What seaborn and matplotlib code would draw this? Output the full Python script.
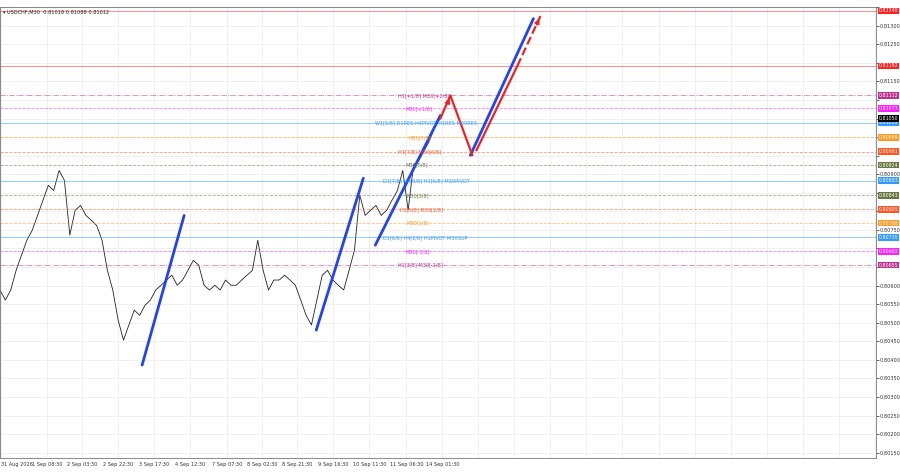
import matplotlib
matplotlib.use("Agg")
import matplotlib.pyplot as plt
import seaborn as sns
import numpy as np
import pandas as pd

sns.set_theme(style="white")
plt.rcParams['font.family'] = ['DejaVu Sans']

close = [0.80588,0.80561,0.80588,0.80641,0.80682,0.80722,0.80749,0.80789,0.80830,0.80870,
         0.80856,0.80910,0.80883,0.80736,0.80803,0.80816,0.80789,0.80776,0.80762,0.80722,
         0.80641,0.80588,0.80507,0.80453,0.80494,0.80534,0.80520,0.80547,0.80561,0.80588,
         0.80601,0.80615,0.80628,0.80601,0.80615,0.80641,0.80668,0.80655,0.80601,0.80588,
         0.80601,0.80588,0.80615,0.80601,0.80601,0.80615,0.80628,0.80641,0.80722,0.80641,
         0.80588,0.80615,0.80615,0.80628,0.80615,0.80601,0.80561,0.80520,0.80494,0.80561,
         0.80628,0.80641,0.80615,0.80601,0.80588,0.80641,0.80695,0.80843,0.80789,0.80803,
         0.80816,0.80789,0.80803,0.80830,0.80856,0.80910,0.80803,0.80924,0.80937,0.80964,
         0.80991,0.81031,0.81050]
bar = list(np.linspace(0, 88, len(close)))

time_pos = [0.2,9.4,16.4,23.6,30.8,38,45.4,52.4,59.4,66.6,73.8,81.2,88.4]
time_lbl = ["31 Aug 2026","1 Sep 08:30","2 Sep 03:30","2 Sep 22:30","3 Sep 17:30","4 Sep 12:30",
            "7 Sep 07:30","8 Sep 02:30","8 Sep 21:30","9 Sep 16:30","10 Sep 11:30","11 Sep 06:30","14 Sep 01:30"]

lvl_price = [0.81340,0.81192,0.81112,0.81077,0.81039,0.80999,0.80961,0.80924,0.80883,0.80843,
             0.80805,0.80768,0.80730,0.80692,0.80655]
lvl_color = ["#ff2020","#ff2020","#c03090","#ff20ff","#3399ff","#ff9922","#ff5522","#667744",
             "#3399ff","#667744","#ff5522","#ff9922","#3399ff","#ff20ff","#c03090"]
lvl_style = ["-","-","-.","--","-","--","--","--","-","--","--","--","-","--","-."]
lvl_text = ["","","H1[+1/8] M30[+2/8]","M30[+1/8]","W1[5/8] D1RES H4PIVOT H1RES M30RES","M30[7/8]",
            "H1[7/8] M30[6/8]","M30[5/8]","D1[7/8] H4[6/8] H1[6/8] M30PIVOT","M30[3/8]",
            "H1[5/8] M30[2/8]","M30[1/8]","D1[6/8] H4[2/8] H1PIVOT M30SUP","M30[-1/8]","H1[3/8] M30[-2/8]"]
lvl_tx = [0,0,79.6,81,75,81.6,79.6,81,76.6,81.2,80,81.2,76.6,81,79.6]
current = 0.81050

blue_x = [(28.4,36.8),(63.2,72.6),(75,88),(94,106.6)]
blue_y = [(0.80386,0.80789),(0.80480,0.80889),(0.80709,0.81058),(0.80951,0.81319)]
red_x = [88,90,94.4]
red_y = [0.81050,0.81112,0.80951]
red2_x = [95.2,103.4]
red2_y = [0.80964,0.81192]
red3_x = [103.4,108]
red3_y = [0.81192,0.81326]

fig = plt.figure(figsize=(9,4.74), dpi=100)
ax = fig.add_axes([0.0, 0.034, 0.973, 0.951])
ax.set_xlim(0,175)
ax.set_ylim(0.80136,0.81348)

yt = np.arange(0.8015,0.81351,0.0005)
ax.set_yticks(yt)
ax.yaxis.tick_right()
marks = lvl_price + [current]
ax.set_yticklabels([f"{v:.5f}" if min(abs(v-m) for m in marks) > 0.00013 else "" for v in yt],
                   fontsize=3.6, color="#333")
grid_x = time_pos + list(np.arange(95.6,175,7.2))
for gx in grid_x:
    ax.axvline(gx, color="#eeeeee", lw=0.6, zorder=0)
for v in yt:
    ax.axhline(v, color="#eeeeee", lw=0.6, zorder=0)
ax.set_xticks(time_pos)
ax.set_xticklabels(time_lbl, fontsize=3.6, color="#333")
ax.get_xticklabels()[0].set_horizontalalignment("left")
ax.tick_params(length=2, width=0.5, pad=1)
for s in ax.spines.values():
    s.set_linewidth(0.6); s.set_color("#777")

df = pd.DataFrame({"bar":bar,"close":close})
sns.lineplot(data=df, x="bar", y="close", ax=ax, color="#222", lw=0.6)
ax.set_xlabel(""); ax.set_ylabel("")

for p,c,ls,t,tx in zip(lvl_price,lvl_color,lvl_style,lvl_text,lvl_tx):
    ax.axhline(p, color=c, ls=ls, lw=0.6, alpha=0.6)
    if t:
        ax.text(tx, p, t, fontsize=3.6, color=c, va="center")
    ax.text(1.003, p, f"{p:.5f}", transform=ax.get_yaxis_transform(), fontsize=3.4,
            color="white", va="center", bbox=dict(boxstyle="square,pad=0.15", fc=c, ec="none"))
ax.text(1.003, current, f"{current:.5f}", transform=ax.get_yaxis_transform(), fontsize=3.4,
        color="white", va="center", bbox=dict(boxstyle="square,pad=0.15", fc="black", ec="none"))

for bx,by in zip(blue_x,blue_y):
    ax.plot(bx, by, color="#2244ee", lw=2)
ax.plot(red_x, red_y, color="#ee2222", lw=1.6)
ax.plot(red2_x, red2_y, color="#ee2222", lw=1.6)
ax.plot(red3_x, red3_y, color="#ee2222", lw=1.6, ls="--")
ax.annotate("", xy=(red_x[1],red_y[1]), xytext=(89.3,0.81085),
            arrowprops=dict(arrowstyle="-|>", color="#ee2222", lw=1.2, mutation_scale=7))
ax.annotate("", xy=(red3_x[1],red3_y[1]), xytext=(107,0.81296),
            arrowprops=dict(arrowstyle="-|>", color="#ee2222", lw=1.2, mutation_scale=7))

ax.text(0.003, 0.995, "▾ USDCHF,M30  0.81018 0.81088 0.81012", transform=ax.transAxes,
        fontsize=3.6, va="top", color="#222")
fig.savefig("out.png", dpi=100)
